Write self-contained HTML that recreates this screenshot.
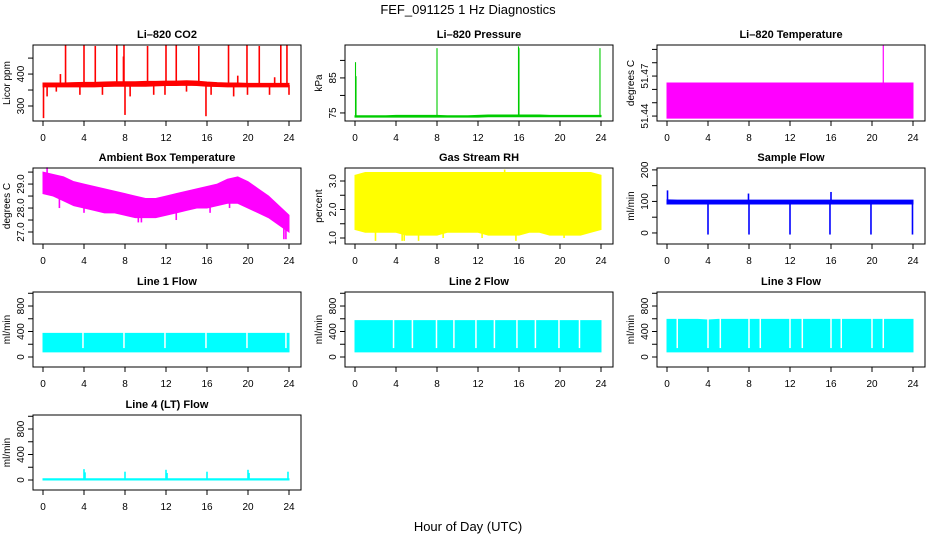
<!DOCTYPE html>
<html><head><meta charset="utf-8"><style>
body{margin:0;background:#fff;}
svg{display:block;font-family:"Liberation Sans",sans-serif;}
</style></head><body>
<svg id="c" width="936" height="540" viewBox="0 0 936 540" xmlns="http://www.w3.org/2000/svg">
<text x="468" y="14" font-size="13" text-anchor="middle">FEF_091125  1 Hz Diagnostics</text>
<text x="468" y="531" font-size="13" text-anchor="middle">Hour of Day (UTC)</text>
</svg>
<script>
const hours=[0,1,2,3,4,5,6,7,8,9,10,11,12,13,14,15,16,17,18,19,20,21,22,23,24];
const xTicks=[0,4,8,12,16,20,24];
// CO2
const co2Lo=[360,360,360,360,360,360,361,362,362,362,362,363,364,364,365,364,362,361,360,360,360,360,360,360,360];
const co2Hi=[372,372,372,373,374,374,375,376,376,376,377,377,378,378,379,378,375,373,372,372,371,371,371,371,371];
const co2SpikeHours=[2.2,4.0,5.1,7.2,7.9,10.2,12.0,13.0,15.2,18.1,19.9,21.1,23.2,23.8,1.7,7.85,19.0,22.6,0.05,8.0,15.9,0.4,1.3,3.6,5.8,8.5,10.8,11.9,14.0,16.4,18.6,19.95,22.1,24.0];
const co2SpikeVals=[490,490,488,490,490,488,490,490,488,490,490,488,490,490,400,455,395,390,262,272,268,330,345,335,335,330,335,335,345,335,330,335,335,335];
// Pressure
const presLo=[73.8,73.8,73.8,73.8,73.8,73.8,73.8,73.8,73.8,73.8,73.8,73.8,73.8,73.9,73.9,73.9,73.9,73.9,73.9,73.9,73.9,73.9,73.9,73.9,73.9];
const presHi=[74.2,74.2,74.2,74.2,74.3,74.3,74.3,74.3,74.3,74.2,74.2,74.2,74.3,74.4,74.4,74.4,74.4,74.4,74.4,74.3,74.3,74.3,74.3,74.3,74.3];
const presSpikeHours=[0.05,0.1,8.0,15.95,16.0,23.9];
const presSpikeVals=[89.5,85.5,93.5,94.0,93.5,93.5];
// Li-820 temperature
const tempLo=[51.4385,51.4385,51.4385,51.4385,51.4385,51.4385,51.4385,51.4385,51.4385,51.4385,51.4385,51.4385,51.4385,51.4385,51.4385,51.4385,51.4385,51.4385,51.4385,51.4385,51.4385,51.4385,51.4385,51.4385,51.4385];
const tempHi=[51.4648,51.4648,51.4648,51.4648,51.4648,51.4648,51.4648,51.4648,51.4648,51.4648,51.4648,51.4648,51.4648,51.4648,51.4648,51.4648,51.4648,51.4648,51.4648,51.4648,51.4648,51.4648,51.4648,51.4648,51.4648];
const tempSpikeHours=[21.1];
const tempSpikeVals=[51.4935];
// Ambient box temperature
const ambLo=[28.6,28.5,28.3,28.1,28.0,27.9,27.8,27.8,27.7,27.6,27.6,27.6,27.7,27.8,27.9,28.0,28.0,28.1,28.2,28.2,28.0,27.8,27.6,27.3,27.0];
const ambHi=[29.5,29.4,29.3,29.1,29.0,28.9,28.8,28.7,28.6,28.5,28.4,28.4,28.5,28.6,28.7,28.8,28.9,29.0,29.2,29.3,29.1,28.8,28.5,28.1,27.7];
const ambSpikeHours=[0.4,1.6,4.0,9.3,9.6,13.0,16.3,18.2,23.5,23.7];
const ambSpikeVals=[29.7,28.0,27.8,27.4,27.4,27.5,27.8,28.0,26.7,26.7];
// Gas stream RH
const rhLo=[1.3,1.2,1.2,1.2,1.2,1.1,1.1,1.1,1.1,1.2,1.2,1.2,1.2,1.1,1.1,1.1,1.1,1.2,1.2,1.1,1.1,1.1,1.1,1.2,1.3];
const rhHi=[3.2,3.3,3.3,3.3,3.3,3.3,3.3,3.3,3.3,3.3,3.3,3.3,3.3,3.3,3.3,3.3,3.3,3.3,3.3,3.3,3.3,3.3,3.3,3.3,3.2];
const rhSpikeHours=[2.0,4.6,4.8,6.2,8.6,12.4,14.6,15.7,20.4];
const rhSpikeVals=[0.9,0.9,0.9,0.9,1.0,1.0,3.4,0.9,1.0];
// Sample flow
const sfLo=[92,92,92,92,92,92,92,92,92,92,92,92,92,92,92,92,92,92,92,92,92,92,92,92,92];
const sfHi=[105,104,104,104,104,104,104,104,104,104,104,104,104,104,104,104,104,104,104,104,104,104,104,104,104];
const sfSpikeHours=[0.05,4.0,8.0,7.95,12.0,16.0,15.9,19.9,23.95];
const sfSpikeVals=[135,-5,-5,125,-5,130,-5,-5,-5];
// Line flows
const l1Lo=[80,80,80,80,80,80,80,80,80,80,80,80,80,80,80,80,80,80,80,80,80,80,80,80,80];
const l1Hi=[370,370,370,370,370,370,370,370,370,370,370,370,370,370,370,370,370,370,370,370,370,370,370,370,370];
const l1GapHours=[3.9,7.9,11.9,15.9,19.9,23.7];
const l2Lo=[80,80,80,80,80,80,80,80,80,80,80,80,80,80,80,80,80,80,80,80,80,80,80,80,80];
const l2Hi=[570,570,570,570,570,570,570,570,570,570,570,570,570,570,570,570,570,570,570,570,570,570,570,570,570];
const l2GapHours=[3.76,5.6,7.95,9.65,11.8,13.6,15.8,17.6,19.9,21.9];
const l3Lo=[80,80,80,80,80,80,80,80,80,80,80,80,80,80,80,80,80,80,80,80,80,80,80,80,80];
const l3Hi=[590,590,590,590,580,590,590,590,590,590,590,590,590,590,590,590,590,590,590,590,590,590,590,590,590];
const l3GapHours=[1.0,4.0,5.2,8.0,9.1,12.0,13.2,16.0,17.0,20.0,21.1];
const l4Lo=[0,0,0,0,0,0,0,0,0,0,0,0,0,0,0,0,0,0,0,0,0,0,0,0,0];
const l4Hi=[20,20,20,20,20,20,20,20,20,20,20,20,20,20,20,20,20,20,20,20,20,20,20,20,20];
const l4SpikeHours=[4.0,4.1,8.0,12.0,12.1,16.0,20.0,20.1,23.9];
const l4SpikeVals=[170,120,130,160,110,130,160,110,130];

const svg=document.getElementById('c');
const NS='http://www.w3.org/2000/svg';
function mk(tag,attrs,parent){const e=document.createElementNS(NS,tag);for(const k in attrs)e.setAttribute(k,attrs[k]);(parent||svg).appendChild(e);return e;}
const rows=[[45,121],[168,244],[292,367],[415,490]];
function panel(p){
  const x0=43+312*p.col, x1=x0+246;
  const top=rows[p.row][0], bot=rows[p.row][1];
  const bl=x0-10, br=x0+258;
  const xs=h=>x0+(h/24)*(x1-x0);
  const ys=v=>bot-(v-p.dom[0])/(p.dom[1]-p.dom[0])*(bot-top);
  const g=mk('g',{});
  
  
  const t=mk('text',{x:(bl+br)/2,y:top-7,'font-size':11,'font-weight':'bold','text-anchor':'middle'},g);
  t.textContent=p.title;
  
  
  let d='';
  hours.forEach((h,i)=>{d+=(i?'L':'M')+xs(h)+','+ys(p.hi[i]);});
  for(let i=hours.length-1;i>=0;i--)d+='L'+xs(hours[i])+','+ys(p.lo[i]);
  const band=mk('path',{d:d+'Z',fill:p.color,stroke:p.color,'stroke-width':1},g);
  
  
  if(p.spH){p.spH.forEach((h,i)=>{
    const idx=Math.min(24,Math.round(h));
    const base=(p.lo[idx]+p.hi[idx])/2;
    const s=mk('line',{x1:xs(h),x2:xs(h),y1:ys(base),y2:ys(p.spV[i]),stroke:p.color,'stroke-width':p.sw||1.6},g);
    
    
  });}
  if(p.gaps){p.gaps.forEach(h=>{
    const s=mk('line',{x1:xs(h),x2:xs(h),y1:ys(p.dom[1]),y2:ys(p.lo[0]+60),stroke:'#fff','stroke-width':1.5},g);
    
    
  });}
  const box=mk('rect',{x:bl,y:top,width:br-bl,height:bot-top,fill:'none',stroke:'#000','stroke-width':1},g);
  
  
  xTicks.forEach(h=>{
    const l=mk('line',{x1:xs(h),x2:xs(h),y1:bot,y2:bot+5,stroke:'#000'},g);
    
    
    const tx=mk('text',{x:xs(h),y:bot+20,'font-size':10,'text-anchor':'middle'},g);
    tx.textContent=h;
    
    
  });
  p.yt.forEach(v=>{
    const l=mk('line',{x1:bl-5,x2:bl,y1:ys(v),y2:ys(v),stroke:'#000'},g);
    
    
  });
  p.yl.forEach((v,i)=>{
    const X=bl-9,Y=ys(v);
    const tx=mk('text',{x:X,y:Y,'font-size':10,'text-anchor':'middle',transform:`rotate(-90 ${X} ${Y})`},g);
    tx.textContent=p.ylt[i];
    
    
  });
  const X=bl-23,Y=(top+bot)/2;
  const yt=mk('text',{x:X,y:Y,'font-size':10,'text-anchor':'middle',transform:`rotate(-90 ${X} ${Y})`},g);
  yt.textContent=p.ytitle;
  
  
}
const flowTicks=[0,200,400,600,800,1000];
panel({name:'co2',title:'Li\u2013820 CO2',col:0,row:0,dom:[253,491],lo:co2Lo,hi:co2Hi,spH:co2SpikeHours,spV:co2SpikeVals,color:'#ff0000',yt:[300,350,400,450],yl:[300,400],ylt:['300','400'],ytitle:'Licor ppm'});
panel({name:'pressure',title:'Li\u2013820 Pressure',col:1,row:0,dom:[72.7,94.4],lo:presLo,hi:presHi,spH:presSpikeHours,spV:presSpikeVals,color:'#00cc00',sw:1.1,yt:[75,80,85,90],yl:[75,85],ylt:['75','85'],ytitle:'kPa'});
panel({name:'li820-temp',title:'Li\u2013820 Temperature',col:2,row:0,dom:[51.4363,51.4933],lo:tempLo,hi:tempHi,spH:tempSpikeHours,spV:tempSpikeVals,color:'#ff00ff',sw:1.2,yt:[51.44,51.45,51.46,51.47,51.48,51.49],yl:[51.44,51.47],ylt:['51.44','51.47'],ytitle:'degrees C'});
panel({name:'ambient-temp',title:'Ambient Box Temperature',col:0,row:1,dom:[26.5,29.67],lo:ambLo,hi:ambHi,spH:ambSpikeHours,spV:ambSpikeVals,color:'#ff00ff',yt:[27,27.5,28,28.5,29,29.5],yl:[27,28,29],ylt:['27.0','28.0','29.0'],ytitle:'degrees C'});
panel({name:'rh',title:'Gas Stream RH',col:1,row:1,dom:[0.79,3.456],lo:rhLo,hi:rhHi,spH:rhSpikeHours,spV:rhSpikeVals,color:'#ffff00',yt:[1,1.5,2,2.5,3],yl:[1,2,3],ylt:['1.0','2.0','3.0'],ytitle:'percent'});
panel({name:'sample-flow',title:'Sample Flow',col:2,row:1,dom:[-35,206],lo:sfLo,hi:sfHi,spH:sfSpikeHours,spV:sfSpikeVals,color:'#0000ff',yt:[0,50,100,150,200],yl:[0,100,200],ylt:['0','100','200'],ytitle:'ml/min'});
panel({name:'line1-flow',title:'Line 1 Flow',col:0,row:2,dom:[-157,1020],lo:l1Lo,hi:l1Hi,gaps:l1GapHours,color:'#00ffff',yt:flowTicks,yl:[0,400,800],ylt:['0','400','800'],ytitle:'ml/min'});
panel({name:'line2-flow',title:'Line 2 Flow',col:1,row:2,dom:[-157,1020],lo:l2Lo,hi:l2Hi,gaps:l2GapHours,color:'#00ffff',yt:flowTicks,yl:[0,400,800],ylt:['0','400','800'],ytitle:'ml/min'});
panel({name:'line3-flow',title:'Line 3 Flow',col:2,row:2,dom:[-157,1020],lo:l3Lo,hi:l3Hi,gaps:l3GapHours,color:'#00ffff',yt:flowTicks,yl:[0,400,800],ylt:['0','400','800'],ytitle:'ml/min'});
panel({name:'line4-flow',title:'Line 4 (LT) Flow',col:0,row:3,dom:[-157,1020],lo:l4Lo,hi:l4Hi,spH:l4SpikeHours,spV:l4SpikeVals,color:'#00ffff',yt:flowTicks,yl:[0,400,800],ylt:['0','400','800'],ytitle:'ml/min'});
</script>
</body></html>
